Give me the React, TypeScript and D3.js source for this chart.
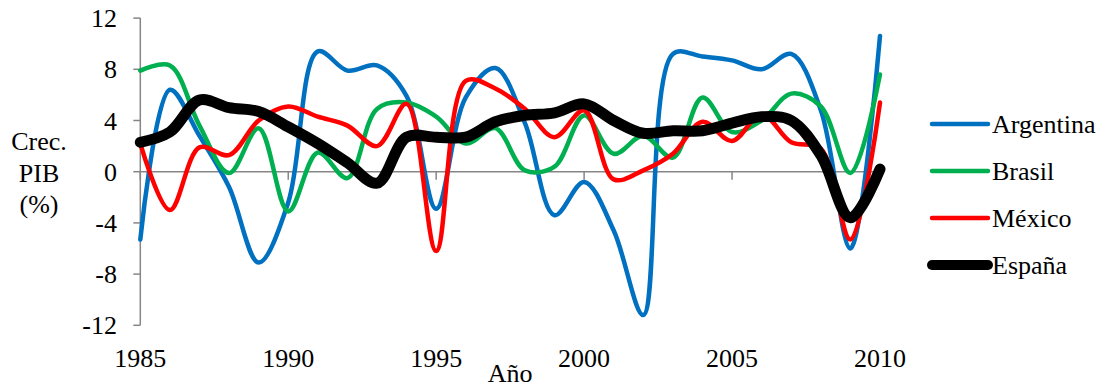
import React from "react";
import * as d3 from "d3";

// Annual GDP growth (%) by country, 1985–2010
const years: number[] = d3.range(1985, 2011);

const argentina: number[] = [
  -5.3, 6.4, 2.8, -1.2, -7.1, -2.4, 9.4, 7.9, 8.3, 5.9, -2.9, 5.8, 8.1,
  3.8, -3.4, -0.8, -4.6, -11.2, 9.2, 9.0, 8.7, 8.0, 9.2, 4.8, -6.0, 10.6,
];
const brasil: number[] = [
  7.9, 8.3, 3.6, -0.1, 3.4, -3.1, 1.5, -0.5, 4.9, 5.4, 4.3, 2.2, 3.4,
  0.1, 0.4, 4.4, 1.4, 2.8, 1.1, 5.8, 3.1, 4.0, 6.1, 5.1, -0.1, 7.6,
];
const mexico: number[] = [
  2.2, -3.0, 1.9, 1.3, 4.0, 5.1, 4.3, 3.6, 2.0, 5.3, -6.2, 7.1, 6.5,
  4.9, 2.7, 4.8, -0.6, 0.1, 1.4, 3.9, 2.4, 4.5, 2.3, 1.8, -5.3, 5.4,
];
const espana: number[] = [
  2.3, 3.1, 5.6, 5.0, 4.7, 3.5, 2.2, 0.7, -0.9, 2.7, 2.7, 2.7, 3.9,
  4.4, 4.6, 5.3, 4.0, 3.0, 3.2, 3.2, 3.8, 4.3, 4.0, 1.3, -3.6, 0.2,
];

const seriesNames: string[] = ["Argentina", "Brasil", "México", "España"];
const seriesValues: number[][] = [argentina, brasil, mexico, espana];
const seriesColors: string[] = ["#0070C0", "#00B050", "#FF0000", "#000000"];
const seriesWidths: number[] = [4.5, 4.5, 4.5, 11];

const yTicks: number[] = [-12, -8, -4, 0, 4, 8, 12];
const xTicks: number[] = [1985, 1990, 1995, 2000, 2005, 2010];

const W = 1110;
const H = 389;
const FONT = "'Liberation Serif', 'Times New Roman', serif";
const AXIS = "#868686";
const textStyle = { fontFamily: FONT, fontSize: 26, fill: "#000" };

export default function App() {
  const x = d3.scaleLinear().domain([1985, 2010]).range([140.3, 880]);
  const y = d3.scaleLinear().domain([-12, 12]).range([325.3, 18.1]);

  const line = d3
    .line<number>()
    .x((_, i) => x(years[i]))
    .y((d) => y(d))
    .curve(d3.curveCatmullRom.alpha(0.5));

  const legendX0 = 932;
  const legendX1 = 988;
  const legendY = (i: number) => 124 + i * 47;

  return (
    <svg
      width={W}
      height={H}
      style={{ position: "absolute", left: 0, top: 0, background: "#fff" }}
    >
      {/* y axis */}
      <line x1={x(1985)} x2={x(1985)} y1={y(12)} y2={y(-12)} stroke={AXIS} strokeWidth={1.5} />
      {yTicks.map((t) => (
        <g key={t}>
          <line x1={x(1985) - 7} x2={x(1985)} y1={y(t)} y2={y(t)} stroke={AXIS} strokeWidth={1.5} />
          <text x={117} y={y(t)} dy="0.35em" textAnchor="end" style={textStyle}>
            {t}
          </text>
        </g>
      ))}

      {/* x axis at zero */}
      <line x1={x(1985)} x2={x(2010)} y1={y(0)} y2={y(0)} stroke={AXIS} strokeWidth={1.5} />
      {xTicks.map((t) => (
        <g key={t}>
          <line x1={x(t)} x2={x(t)} y1={y(0)} y2={y(0) + 8} stroke={AXIS} strokeWidth={1.5} />
          <text x={x(t)} y={367} textAnchor="middle" style={textStyle}>
            {t}
          </text>
        </g>
      ))}

      {/* series */}
      {seriesValues.map((vals, i) => (
        <path
          key={seriesNames[i]}
          d={line(vals) ?? ""}
          fill="none"
          stroke={seriesColors[i]}
          strokeWidth={seriesWidths[i]}
          strokeLinejoin="round"
          strokeLinecap="round"
        />
      ))}

      {/* axis titles */}
      <text x={(x(1985) + x(2010)) / 2} y={382} textAnchor="middle" style={textStyle}>
        Año
      </text>
      <text x={39} textAnchor="middle" style={textStyle}>
        <tspan x={39} y={150}>Crec.</tspan>
        <tspan x={39} y={182}>PIB</tspan>
        <tspan x={39} y={213}>(%)</tspan>
      </text>

      {/* legend */}
      {seriesNames.map((name, i) => (
        <g key={name}>
          <line
            x1={legendX0}
            x2={legendX1}
            y1={legendY(i)}
            y2={legendY(i)}
            stroke={seriesColors[i]}
            strokeWidth={i === 3 ? 10 : 4.5}
            strokeLinecap="round"
          />
          <text x={992} y={legendY(i)} dy="0.35em" style={textStyle}>
            {name}
          </text>
        </g>
      ))}
    </svg>
  );
}
